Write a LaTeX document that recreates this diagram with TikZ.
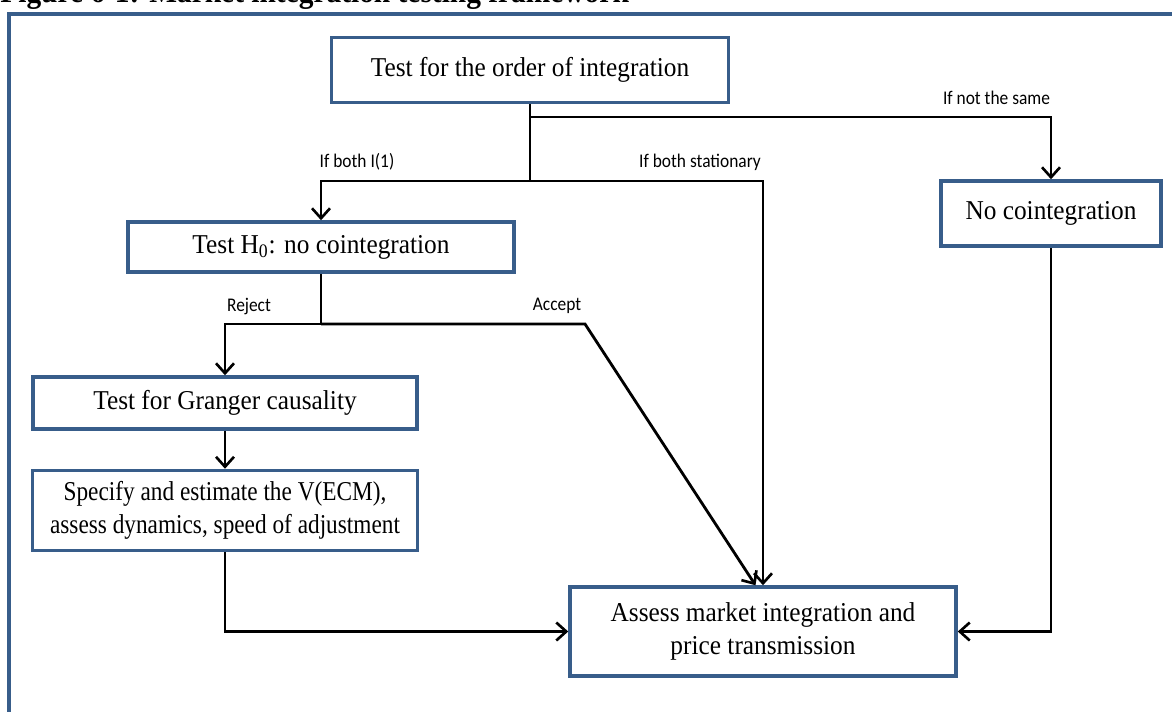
\documentclass[tikz,border=0pt]{standalone}
\usepackage{fontspec}
\setmainfont{Liberation Serif}[FakeStretch=0.93]
\newfontfamily\tightfont{Liberation Serif}[FakeStretch=0.855]
\newfontfamily\lblfont{Carlito}[FakeStretch=0.9]
\usepackage{xcolor}
\usepackage{tikz}
\usetikzlibrary{arrows.meta,positioning}
\definecolor{BoxBlue}{HTML}{385D8A}
\definecolor{LineDark}{HTML}{000000}
\tikzset{
  flowbox/.style={draw=BoxBlue,line width=2pt,align=center,inner sep=3pt,font=\fontsize{15.5}{18.5}\selectfont,fill=white},
  flowline/.style={line width=1.6pt,draw=LineDark},
  flowarrow/.style={-{Straight Barb[length=2mm,width=3.6mm,line width=1.5pt]},line width=1.6pt,draw=LineDark},
  branchlabel/.style={font=\lblfont\fontsize{11}{13}\selectfont,inner sep=0pt},
  framebox/.style={draw=BoxBlue,line width=2pt}
}

\begin{document}
\begin{tikzpicture}
\useasboundingbox (0,0) rectangle (23.44,-14.22);
\node[anchor=base west,font=\bfseries\fontsize{18}{20}\selectfont,inner sep=0pt] (title) at (0,-0.05) {Figure 6-1: Market integration testing framework};
\draw[framebox] (0.18,-15) |- (25,-0.28);
\node[flowbox,minimum width=7.94cm,minimum height=1.3cm] (order) at (10.6,-1.4) {Test for the order of integration};
\node[flowbox,minimum width=4.4cm,minimum height=1.3cm] (nocoint) at (21.02,-4.27) {No cointegration};
\node[flowbox,minimum width=7.72cm,minimum height=1.0cm] (hzero) at (6.42,-4.94) {Test H\textsubscript{0}: no cointegration};
\node[flowbox,minimum width=7.68cm,minimum height=1.04cm] (granger) at (4.5,-8.06) {Test for Granger causality};
\node[flowbox,below=7.6mm of granger,minimum width=7.7cm,minimum height=1.6cm,font=\tightfont\fontsize{15.5}{18.5}\selectfont] (vecm) {Specify and estimate the V(ECM),\\assess dynamics, speed of adjustment};
\node[flowbox,minimum width=7.72cm,minimum height=1.78cm] (assess) at (15.26,-12.63) {Assess market integration and\\price transmission};
% branch points
\coordinate (notsame) at (10.6,-2.34);
\coordinate (split) at (10.6,-3.62);
\coordinate (rejsplit) at (6.42,-6.48);
\coordinate (acc) at (11.7,-6.48);
% connectors
\draw[flowline] (order.south) -- (split);
\draw[flowarrow] (notsame) -| (nocoint.north);
\draw[flowarrow] (split) -| (hzero.north);
\draw[flowarrow] (split) -| (assess.north);
\draw[flowline] (hzero.south) -- (rejsplit);
\draw[flowarrow] (rejsplit) -| (granger.north);
\draw[flowarrow] (rejsplit) -- (acc) -- ([xshift=-1.5mm]assess.north);
\draw[flowarrow] (granger.south) -- (vecm.north);
\draw[flowarrow] (vecm.south) |- (assess.west);
\draw[flowarrow] (nocoint.south) |- (assess.east);
% labels
\node[branchlabel] (lnot) at (19.93,-1.96) {If not the same};
\node[branchlabel] (lione) at (7.14,-3.24) {If both I(1)};
\node[branchlabel] (lstat) at (14.0,-3.24) {If both stationary};
\node[branchlabel] (lrej) at (4.98,-6.12) {Reject};
\node[branchlabel] (lacc) at (11.14,-6.12) {Accept};
\end{tikzpicture}
\end{document}
